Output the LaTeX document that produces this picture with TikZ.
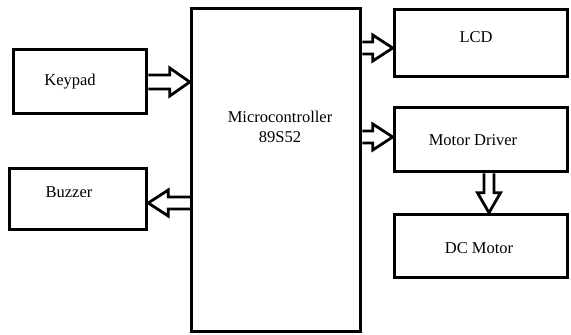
\documentclass[tikz,border=0pt]{standalone}
\usepackage{fontspec}
\setmainfont{Liberation Serif}
\usetikzlibrary{calc}
\tikzset{
  blk/.style={draw, line width=3.5pt, inner sep=0pt, minimum width=#1},
  lbl/.style={font=\fontsize{16.5}{20}\selectfont, inner sep=0pt, align=center},
  hollow/.style 2 args={line width=2.8pt, line join=miter, to path={
    ($(\tikztostart)!#1!90:(\tikztotarget)$) --
    ($($(\tikztotarget)!20pt!(\tikztostart)$)!#1!90:(\tikztotarget)$) --
    ($($(\tikztotarget)!20pt!(\tikztostart)$)!#2!90:(\tikztotarget)$) --
    (\tikztotarget) --
    ($($(\tikztotarget)!20pt!(\tikztostart)$)!#2!-90:(\tikztotarget)$) --
    ($($(\tikztotarget)!20pt!(\tikztostart)$)!#1!-90:(\tikztotarget)$) --
    ($(\tikztostart)!#1!-90:(\tikztotarget)$)
  }}
}
\begin{document}
\begin{tikzpicture}[x=1pt,y=-1pt]
\useasboundingbox (0,0) rectangle (571,335);
% boxes
\node[blk=133pt, minimum height=64pt] (keypad) at (80,81.5) {};
\node[blk=137pt, minimum height=61pt] (buzzer) at (78,199) {};
\node[blk=169pt, minimum height=323pt] (mc) at (276,170) {};
\node[blk=173pt, minimum height=67pt] (lcd) at (481,43) {};
\node[blk=173pt, minimum height=64pt] (md) at (481,139.5) {};
\node[blk=173pt, minimum height=63pt] (dc) at (481,246) {};
% labels
\node[lbl] (tkeypad) at ([xshift=-10pt]keypad.center) {Keypad};
\node[lbl] (tbuzzer) at ([xshift=-9pt,yshift=7pt]buzzer.center) {Buzzer};
\node[lbl] (tmc) at (280,127) {Microcontroller\\89S52};
\node[lbl] (tlcd) at ([xshift=-5pt,yshift=6pt]lcd.center) {LCD};
\node[lbl] (tmd) at ([xshift=-8pt,yshift=-0.5pt]md.center) {Motor Driver};
\node[lbl] (tdc) at ([xshift=-2pt,yshift=-2pt]dc.center) {DC Motor};
% arrows
\draw[hollow={7pt}{14pt}] ([yshift=-0.5pt]keypad.east) to ([yshift=-0.5pt]mc.west |- keypad.east);
\draw[hollow={6pt}{13pt}] ([yshift=-4pt]mc.west |- buzzer.east) to ([yshift=-4pt]buzzer.east);
\draw[hollow={6pt}{13pt}] ([yshift=-5pt]mc.east |- lcd.west) to ([yshift=-5pt]lcd.west);
\draw[hollow={6pt}{13pt}] ([yshift=2.5pt]mc.east |- md.west) to ([yshift=2.5pt]md.west);
\draw[hollow={5pt}{11.5pt}] ([xshift=8pt]md.south) to ([xshift=8pt]dc.north);
\end{tikzpicture}
\end{document}
